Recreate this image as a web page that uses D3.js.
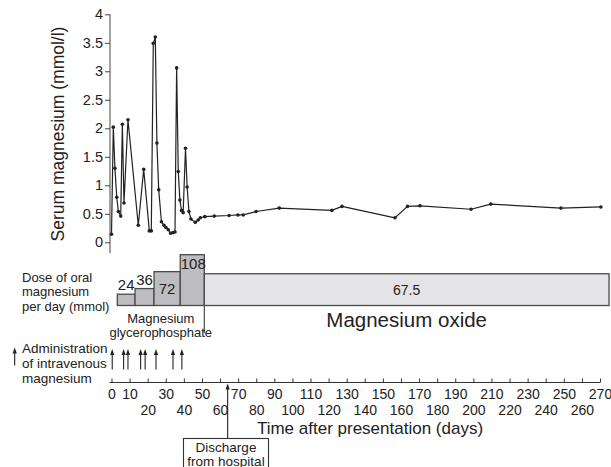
<!DOCTYPE html>
<html>
<head>
<meta charset="utf-8">
<script src="https://cdn.jsdelivr.net/npm/d3@7/dist/d3.min.js"></script>
<style>
  html, body { margin: 0; padding: 0; background: #fff; }
  svg { display: block; font-family: "Liberation Sans", Arial, Helvetica, sans-serif; }
</style>
</head>
<body>
<svg id="chart" width="611" height="467"></svg>
<script>
// ---------- data ----------
const serumDays = [0, 1.0, 1.9, 2.9, 3.8, 5.1, 6.0, 6.9, 9.1, 14.8, 17.8, 20.9, 22.0, 23.1, 24.2, 25.1, 26.1,
  27.6, 29.0, 30.1, 31.4, 32.7, 34.0, 35.1, 36.0, 36.9, 37.8, 38.7, 39.6, 40.9, 41.8, 42.8, 43.9, 46.3,
  47.9, 49.1, 51.6, 56.8, 65.0, 69.9, 72.8, 79.9, 92.7, 121.8, 127.4, 156.7, 163.6, 170.5, 198.7, 209.6,
  248.4, 270.5];
const serumValues = [0.14, 2.02, 1.30, 0.79, 0.54, 0.46, 2.07, 0.69, 2.15, 0.30, 1.28, 0.20, 0.20, 3.49, 3.60, 1.74, 0.92,
  0.36, 0.30, 0.26, 0.22, 0.16, 0.17, 0.18, 3.06, 1.24, 0.74, 0.56, 0.52, 1.65, 0.97, 0.54, 0.41, 0.35,
  0.39, 0.43, 0.45, 0.46, 0.47, 0.48, 0.48, 0.54, 0.60, 0.56, 0.63, 0.43, 0.63, 0.64, 0.58, 0.67,
  0.60, 0.62];

const doseStart = [3.2, 13, 23.5, 38, 51.3];
const doseEnd   = [13, 23.5, 38, 51.3, 275];
const doseValues = [24, 36, 72, 108, 67.5];
const doseLabels = ["24", "36", "72", "108", "67.5"];
const doseType = ["glycerophosphate", "glycerophosphate", "glycerophosphate", "glycerophosphate", "oxide"];

const ivDays = [0.4, 6.7, 9.1, 16.1, 18.6, 24.6, 34.0, 38.9];
const dischargeDay = 64.2;

const yTicks = [0, 0.5, 1, 1.5, 2, 2.5, 3, 3.5, 4];
const yTickLabels = ["0", "0.5", "1", "1.5", "2", "2.5", "3", "3.5", "4"];
const xTicks = d3.range(0, 271, 10);

// ---------- scales ----------
const svg = d3.select("#chart");
const ink = "#222";
const x = d3.scaleLinear().domain([0, 270]).range([111.5, 600]);
const y = d3.scaleLinear().domain([0, 4]).range([242.3, 14.3]);
const doseBase = 305.5;
const yDose = d3.scaleLinear().domain([0, 108]).range([doseBase, 254.7]);

svg.append("rect").attr("width", 611).attr("height", 467).attr("fill", "#fff");

function upArrow(g, xp, yBottom, yTop) {
  g.append("line").attr("x1", xp).attr("x2", xp).attr("y1", yBottom).attr("y2", yTop + 4)
    .attr("stroke", ink).attr("stroke-width", 1.1);
  g.append("path").attr("d", `M${xp - 2.1},${yTop + 6} L${xp},${yTop} L${xp + 2.1},${yTop + 6} Z`)
    .attr("fill", ink);
}

// ---------- serum axis ----------
const yAxis = d3.axisLeft(y).tickValues(yTicks)
  .tickFormat((d, i) => yTickLabels[i]).tickSize(5).tickPadding(2).tickSizeOuter(0);
const gy = svg.append("g").attr("transform", "translate(110,0)").call(yAxis);
gy.select(".domain").remove();
gy.append("line").attr("x1", 0).attr("x2", 0).attr("y1", y(4)).attr("y2", y(-0.19))
  .attr("stroke", "#444").attr("stroke-width", 1);
gy.selectAll(".tick line").attr("stroke", "#444");
gy.selectAll(".tick text").attr("fill", ink).style("font-size", "14.5px");

svg.append("text").attr("transform", "translate(64,134) rotate(-90)")
  .attr("text-anchor", "middle").attr("fill", ink).style("font-size", "17.5px")
  .text("Serum magnesium (mmol/l)");

// ---------- serum line ----------
const pts = serumDays.map((d, i) => [d, serumValues[i]]);
svg.append("path").datum(pts)
  .attr("d", d3.line().x(d => x(d[0])).y(d => y(d[1])))
  .attr("fill", "none").attr("stroke", ink).attr("stroke-width", 1.2).attr("stroke-linejoin", "round");
svg.append("g").selectAll("circle").data(pts).join("circle")
  .attr("cx", d => x(d[0])).attr("cy", d => y(d[1])).attr("r", 1.8).attr("fill", ink);

// ---------- dose bars ----------
const bars = svg.append("g");
doseValues.forEach((v, i) => {
  const x0 = x(doseStart[i]), x1 = x(doseEnd[i]), top = yDose(v);
  bars.append("rect").attr("x", x0).attr("y", top).attr("width", x1 - x0).attr("height", doseBase - top)
    .attr("fill", doseType[i] === "oxide" ? "#e4e4e6" : "#bdbdbf")
    .attr("stroke", "#4a4a4a").attr("stroke-width", 1.3);
});
doseValues.forEach((v, i) => {
  const x0 = x(doseStart[i]), x1 = x(doseEnd[i]), top = yDose(v);
  let ty;
  if (i < 2) ty = top - 4;            // above bar
  else if (i === 2) ty = (top + doseBase) / 2 + 5;
  else if (i === 3) ty = top + 14;
  else ty = (top + doseBase) / 2 + 5;
  bars.append("text").attr("x", (x0 + x1) / 2 + (i === 3 ? 1 : 0)).attr("y", ty)
    .attr("text-anchor", "middle").attr("fill", ink).style("font-size", i === 4 ? "14px" : "15px")
    .text(doseLabels[i]);
});

const doseLbl = svg.append("text").attr("fill", ink).style("font-size", "13px");
["Dose of oral", "magnesium", "per day (mmol)"].forEach((t, i) =>
  doseLbl.append("tspan").attr("x", 22).attr("y", 282 + i * 14.3).text(t));

// separator between the two preparations
svg.append("line").attr("x1", x(doseEnd[3])).attr("x2", x(doseEnd[3]))
  .attr("y1", doseBase).attr("y2", 333).attr("stroke", "#4a4a4a").attr("stroke-width", 1.2);

const gpX = (x(doseStart[0]) + x(doseEnd[3])) / 2;
const gl = svg.append("text").attr("fill", ink).attr("text-anchor", "middle").style("font-size", "13px");
gl.append("tspan").attr("x", gpX).attr("y", 323).text("Magnesium");
gl.append("tspan").attr("x", gpX).attr("y", 337).text("glycerophosphate");

svg.append("text").attr("x", (x(doseStart[4]) + x(doseEnd[4])) / 2).attr("y", 327)
  .attr("text-anchor", "middle").attr("fill", ink).style("font-size", "20.5px").text("Magnesium oxide");

// ---------- intravenous arrows ----------
const ivg = svg.append("g");
ivDays.forEach(d => upArrow(ivg, x(d), 369.5, 349));
upArrow(svg, 14.7, 365.5, 347.5);
const ivl = svg.append("text").attr("fill", ink).style("font-size", "13.5px");
["Administration", "of intravenous", "magnesium"].forEach((t, i) =>
  ivl.append("tspan").attr("x", 22).attr("y", 352.5 + i * 15).text(t));

// ---------- time axis ----------
const axisY = 382.5;
const xAxis = d3.axisBottom(x).tickValues(xTicks).tickSizeInner(-4).tickSizeOuter(0).tickFormat(d3.format("d"));
const gx = svg.append("g").attr("transform", `translate(0,${axisY})`).call(xAxis);
gx.select(".domain").remove();
gx.append("line").attr("x1", 109.5).attr("x2", x(270)).attr("y1", 0).attr("y2", 0)
  .attr("stroke", "#333").attr("stroke-width", 1.1);
gx.selectAll(".tick line").attr("stroke", "#333");
gx.selectAll(".tick text")
  .attr("y", d => (d === 0 || (d / 10) % 2 === 1) ? 7 : 23)
  .attr("fill", ink).style("font-size", "14px");

svg.append("text").attr("x", 370).attr("y", 433.5).attr("text-anchor", "middle")
  .attr("fill", ink).style("font-size", "17px").text("Time after presentation (days)");

// ---------- discharge ----------
const dx = x(dischargeDay);
upArrow(svg, dx, 438.5, 383.5);
svg.append("rect").attr("x", 183.5).attr("y", 438.5).attr("width", 85).attr("height", 40)
  .attr("fill", "#fff").attr("stroke", "#333").attr("stroke-width", 1.1);
const dl = svg.append("text").attr("fill", ink).attr("text-anchor", "middle").style("font-size", "13.5px");
dl.append("tspan").attr("x", 226).attr("y", 451.5).text("Discharge");
dl.append("tspan").attr("x", 226).attr("y", 465.5).text("from hospital");
</script>
</body>
</html>
